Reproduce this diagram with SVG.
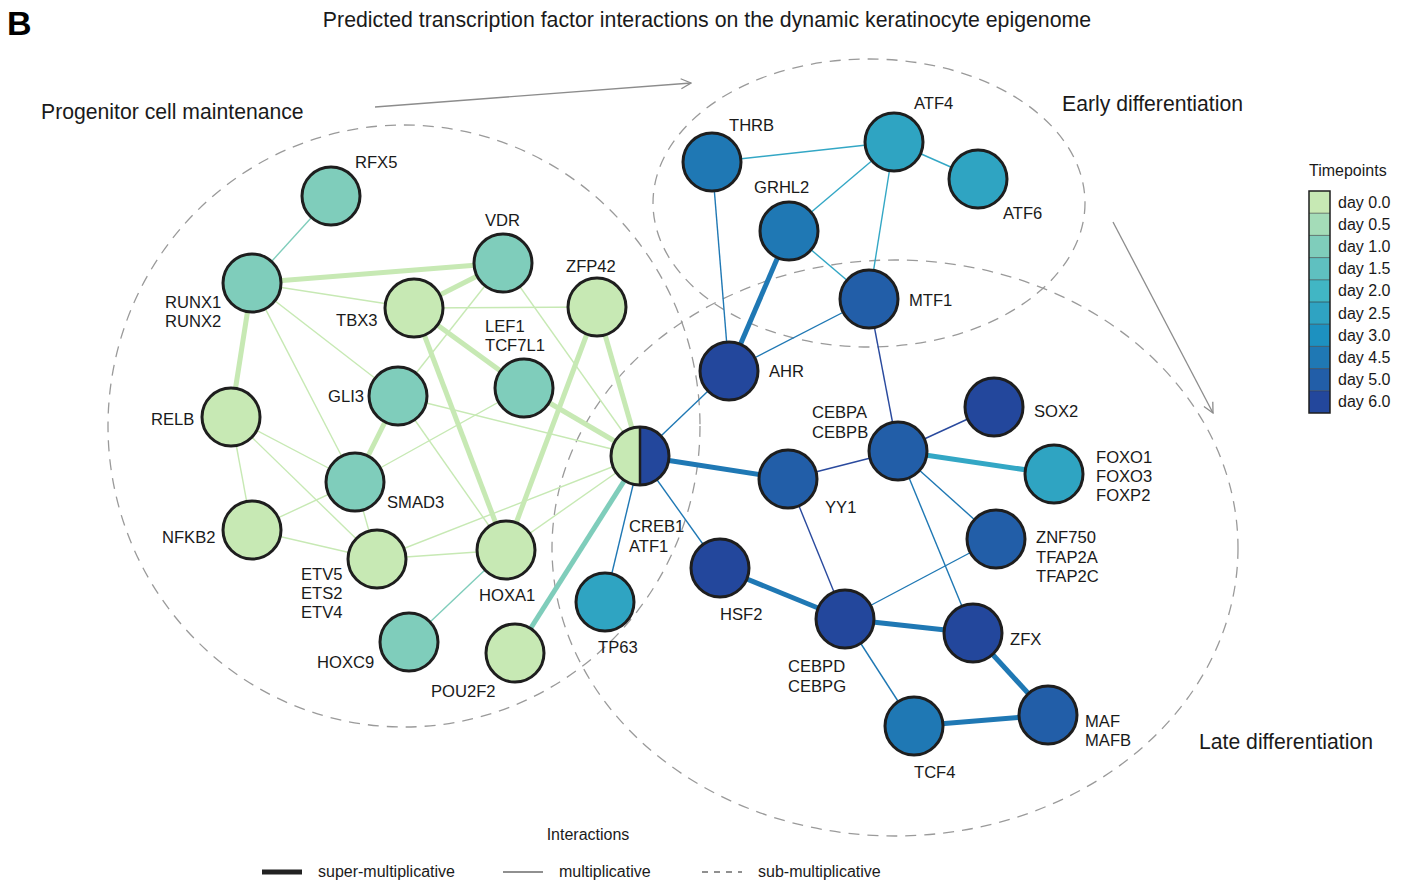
<svg xmlns="http://www.w3.org/2000/svg" width="1403" height="888" viewBox="0 0 1403 888">
<defs>
<marker id="arr" viewBox="0 0 12 12" refX="11" refY="6" markerWidth="12" markerHeight="12" markerUnits="userSpaceOnUse" orient="auto">
<path d="M1,1 L11,6 L1,11" fill="none" stroke="#8c8c8c" stroke-width="1.3"/>
</marker>
</defs>
<style>
text{font-family:"Liberation Sans",Arial,sans-serif;fill:#1a1a1a}
.lbl{font-size:16.6px}
.grp{font-size:21.2px}
.leg{font-size:16px}
.zone{fill:none;stroke:#9a9a9a;stroke-width:1.3;stroke-dasharray:11 8}
.node circle{stroke:#1e1e1e;stroke-width:3}
.gk{stroke:#c7e9b4;stroke-width:5;fill:none}
.gt{stroke:#c7e9b4;stroke-width:1.4;fill:none}
.tt{stroke:#7fcdbb;stroke-width:1.4;fill:none}
.tk{stroke:#7fcdbb;stroke-width:5;fill:none}
.lt{stroke:#33a7c5;stroke-width:1.4;fill:none}
.lk{stroke:#33a7c5;stroke-width:5;fill:none}
.bt{stroke:#1f78b4;stroke-width:1.4;fill:none}
.bk{stroke:#1f78b4;stroke-width:5;fill:none}
.dt{stroke:#2a4a9e;stroke-width:1.4;fill:none}
.c0{fill:#c7e9b4}.c1{fill:#7fcdbb}.c25{fill:#2fa4c2}.c3{fill:#1f78b4}.c5{fill:#225ea8}.c6{fill:#23479c}
</style>
<rect width="1403" height="888" fill="#ffffff"/>

<text x="7" y="35" style="font-size:34px;font-weight:bold;fill:#000">B</text>
<text x="707" y="27" text-anchor="middle" style="font-size:21.3px">Predicted transcription factor interactions on the dynamic keratinocyte epigenome</text>

<g id="zones">
<ellipse class="zone" cx="404" cy="426" rx="296" ry="301"/>
<ellipse class="zone" cx="869" cy="203" rx="216" ry="144"/>
<ellipse class="zone" cx="895" cy="548" rx="343" ry="288"/>
<text class="grp" x="41" y="119">Progenitor cell maintenance</text>
<text class="grp" x="1062" y="111">Early differentiation</text>
<text class="grp" x="1199" y="749">Late differentiation</text>
<line x1="375" y1="107" x2="691" y2="83" stroke="#8c8c8c" stroke-width="1.3" marker-end="url(#arr)"/>
<line x1="1113" y1="222" x2="1213" y2="413" stroke="#8c8c8c" stroke-width="1.3" marker-end="url(#arr)"/>
</g>

<g id="connectors">
<line class="gt" x1="252" y1="283" x2="414" y2="308"/>
<line class="gt" x1="252" y1="283" x2="398" y2="396"/>
<line class="gt" x1="252" y1="283" x2="355" y2="482"/>
<line class="gt" x1="414" y1="308" x2="597" y2="307"/>
<line class="gt" x1="503" y1="263" x2="398" y2="396"/>
<line class="gt" x1="503" y1="263" x2="640" y2="456"/>
<line class="gt" x1="524" y1="388" x2="355" y2="482"/>
<line class="gt" x1="398" y1="396" x2="640" y2="456"/>
<line class="gt" x1="398" y1="396" x2="506" y2="550"/>
<line class="gt" x1="231" y1="417" x2="252" y2="530"/>
<line class="gt" x1="231" y1="417" x2="355" y2="482"/>
<line class="gt" x1="231" y1="417" x2="377" y2="559"/>
<line class="gt" x1="252" y1="530" x2="355" y2="482"/>
<line class="gt" x1="252" y1="530" x2="377" y2="559"/>
<line class="gt" x1="355" y1="482" x2="377" y2="559"/>
<line class="gt" x1="377" y1="559" x2="506" y2="550"/>
<line class="gt" x1="377" y1="559" x2="640" y2="456"/>
<line class="gt" x1="506" y1="550" x2="640" y2="456"/>
<line class="gk" x1="252" y1="283" x2="503" y2="263"/>
<line class="gk" x1="252" y1="283" x2="231" y2="417"/>
<line class="gk" x1="414" y1="308" x2="503" y2="263"/>
<line class="gk" x1="414" y1="308" x2="524" y2="388"/>
<line class="gk" x1="414" y1="308" x2="506" y2="550"/>
<line class="gk" x1="597" y1="307" x2="640" y2="456"/>
<line class="gk" x1="597" y1="307" x2="506" y2="550"/>
<line class="gk" x1="524" y1="388" x2="640" y2="456"/>
<line class="gk" x1="398" y1="396" x2="355" y2="482"/>
<line class="tt" x1="331" y1="196" x2="252" y2="283"/>
<line class="tt" x1="409" y1="642" x2="506" y2="550"/>
<line class="tk" x1="640" y1="456" x2="515" y2="653"/>
<line class="lt" x1="712" y1="162" x2="894" y2="142"/>
<line class="lt" x1="894" y1="142" x2="978" y2="179"/>
<line class="lt" x1="894" y1="142" x2="789" y2="231"/>
<line class="lt" x1="894" y1="142" x2="869" y2="299"/>
<line class="lt" x1="789" y1="231" x2="869" y2="299"/>
<line class="lk" x1="898" y1="451" x2="1054" y2="474"/>
<line class="bt" x1="712" y1="162" x2="729" y2="371"/>
<line class="bt" x1="869" y1="299" x2="729" y2="371"/>
<line class="bt" x1="729" y1="371" x2="640" y2="456"/>
<line class="bt" x1="640" y1="456" x2="605" y2="602"/>
<line class="bt" x1="640" y1="456" x2="720" y2="568"/>
<line class="bt" x1="898" y1="451" x2="996" y2="539"/>
<line class="bt" x1="898" y1="451" x2="973" y2="633"/>
<line class="bt" x1="996" y1="539" x2="845" y2="619"/>
<line class="bt" x1="845" y1="619" x2="914" y2="726"/>
<line class="bk" x1="789" y1="231" x2="729" y2="371"/>
<line class="bk" x1="640" y1="456" x2="788" y2="479"/>
<line class="bk" x1="720" y1="568" x2="845" y2="619"/>
<line class="bk" x1="845" y1="619" x2="973" y2="633"/>
<line class="bk" x1="973" y1="633" x2="1048" y2="715"/>
<line class="bk" x1="914" y1="726" x2="1048" y2="715"/>
<line class="dt" x1="869" y1="299" x2="898" y2="451"/>
<line class="dt" x1="788" y1="479" x2="898" y2="451"/>
<line class="dt" x1="788" y1="479" x2="845" y2="619"/>
<line class="dt" x1="898" y1="451" x2="994" y2="407"/>
</g>

<g id="n-rfx5" class="node"><circle class="c1" cx="331" cy="196" r="29"/><text class="lbl" x="355" y="168">RFX5</text></g>
<g id="n-runx" class="node"><circle class="c1" cx="252" cy="283" r="29"/><text class="lbl" x="165" y="308">RUNX1</text><text class="lbl" x="165" y="327">RUNX2</text></g>
<g id="n-tbx3" class="node"><circle class="c0" cx="414" cy="308" r="29"/><text class="lbl" x="336" y="326">TBX3</text></g>
<g id="n-gli3" class="node"><circle class="c1" cx="398" cy="396" r="29"/><text class="lbl" x="328" y="402">GLI3</text></g>
<g id="n-relb" class="node"><circle class="c0" cx="231" cy="417" r="29"/><text class="lbl" x="151" y="425">RELB</text></g>
<g id="n-vdr" class="node"><circle class="c1" cx="503" cy="263" r="29"/><text class="lbl" x="485" y="226">VDR</text></g>
<g id="n-zfp42" class="node"><circle class="c0" cx="597" cy="307" r="29"/><text class="lbl" x="566" y="272">ZFP42</text></g>
<g id="n-lef1" class="node"><circle class="c1" cx="524" cy="388" r="29"/><text class="lbl" x="485" y="332">LEF1</text><text class="lbl" x="485" y="351">TCF7L1</text></g>
<g id="n-smad3" class="node"><circle class="c1" cx="355" cy="482" r="29"/><text class="lbl" x="387" y="508">SMAD3</text></g>
<g id="n-nfkb2" class="node"><circle class="c0" cx="252" cy="530" r="29"/><text class="lbl" x="162" y="543">NFKB2</text></g>
<g id="n-etv5" class="node"><circle class="c0" cx="377" cy="559" r="29"/><text class="lbl" x="301" y="580">ETV5</text><text class="lbl" x="301" y="599">ETS2</text><text class="lbl" x="301" y="618">ETV4</text></g>
<g id="n-hoxc9" class="node"><circle class="c1" cx="409" cy="642" r="29"/><text class="lbl" x="317" y="668">HOXC9</text></g>
<g id="n-hoxa1" class="node"><circle class="c0" cx="506" cy="550" r="29"/><text class="lbl" x="479" y="601">HOXA1</text></g>
<g id="n-pou2f2" class="node"><circle class="c0" cx="515" cy="653" r="29"/><text class="lbl" x="431" y="697">POU2F2</text></g>
<g id="n-tp63" class="node"><circle class="c25" cx="605" cy="602" r="29"/><text class="lbl" x="598" y="653">TP63</text></g>
<g id="n-creb1" class="node">
<path d="M640,427 A29,29 0 0 0 640,485 Z" fill="#c7e9b4"/>
<path d="M640,427 A29,29 0 0 1 640,485 Z" fill="#23479c"/>
<line x1="640" y1="427" x2="640" y2="485" stroke="#1e1e1e" stroke-width="2.5"/>
<circle cx="640" cy="456" r="29" fill="none"/>
<text class="lbl" x="629" y="532">CREB1</text><text class="lbl" x="629" y="552">ATF1</text></g>
<g id="n-thrb" class="node"><circle class="c3" cx="712" cy="162" r="29"/><text class="lbl" x="729" y="131">THRB</text></g>
<g id="n-atf4" class="node"><circle class="c25" cx="894" cy="142" r="29"/><text class="lbl" x="914" y="109">ATF4</text></g>
<g id="n-atf6" class="node"><circle class="c25" cx="978" cy="179" r="29"/><text class="lbl" x="1003" y="219">ATF6</text></g>
<g id="n-grhl2" class="node"><circle class="c3" cx="789" cy="231" r="29"/><text class="lbl" x="754" y="193">GRHL2</text></g>
<g id="n-mtf1" class="node"><circle class="c5" cx="869" cy="299" r="29"/><text class="lbl" x="909" y="306">MTF1</text></g>
<g id="n-ahr" class="node"><circle class="c6" cx="729" cy="371" r="29"/><text class="lbl" x="769" y="377">AHR</text></g>
<g id="n-cebpa" class="node"><circle class="c5" cx="898" cy="451" r="29"/><text class="lbl" x="812" y="418">CEBPA</text><text class="lbl" x="812" y="438">CEBPB</text></g>
<g id="n-sox2" class="node"><circle class="c6" cx="994" cy="407" r="29"/><text class="lbl" x="1034" y="417">SOX2</text></g>
<g id="n-foxo" class="node"><circle class="c25" cx="1054" cy="474" r="29"/><text class="lbl" x="1096" y="463">FOXO1</text><text class="lbl" x="1096" y="482">FOXO3</text><text class="lbl" x="1096" y="501">FOXP2</text></g>
<g id="n-yy1" class="node"><circle class="c5" cx="788" cy="479" r="29"/><text class="lbl" x="825" y="513">YY1</text></g>
<g id="n-znf750" class="node"><circle class="c5" cx="996" cy="539" r="29"/><text class="lbl" x="1036" y="543">ZNF750</text><text class="lbl" x="1036" y="563">TFAP2A</text><text class="lbl" x="1036" y="582">TFAP2C</text></g>
<g id="n-hsf2" class="node"><circle class="c6" cx="720" cy="568" r="29"/><text class="lbl" x="720" y="620">HSF2</text></g>
<g id="n-cebpd" class="node"><circle class="c6" cx="845" cy="619" r="29"/><text class="lbl" x="788" y="672">CEBPD</text><text class="lbl" x="788" y="692">CEBPG</text></g>
<g id="n-zfx" class="node"><circle class="c6" cx="973" cy="633" r="29"/><text class="lbl" x="1010" y="645">ZFX</text></g>
<g id="n-tcf4" class="node"><circle class="c3" cx="914" cy="726" r="29"/><text class="lbl" x="914" y="778">TCF4</text></g>
<g id="n-maf" class="node"><circle class="c5" cx="1048" cy="715" r="29"/><text class="lbl" x="1085" y="727">MAF</text><text class="lbl" x="1085" y="746">MAFB</text></g>

<g id="legend-time">
<text class="leg" x="1309" y="176">Timepoints</text>
<rect x="1309" y="191" width="21" height="22.2" fill="#c7e9b4"/>
<rect x="1309" y="213.2" width="21" height="22.2" fill="#a4dcb8"/>
<rect x="1309" y="235.4" width="21" height="22.2" fill="#7fcdbb"/>
<rect x="1309" y="257.6" width="21" height="22.2" fill="#5fc0c0"/>
<rect x="1309" y="279.8" width="21" height="22.2" fill="#41b6c4"/>
<rect x="1309" y="302" width="21" height="22.2" fill="#2fa3c2"/>
<rect x="1309" y="324.2" width="21" height="22.2" fill="#1d91c0"/>
<rect x="1309" y="346.4" width="21" height="22.2" fill="#1f78b4"/>
<rect x="1309" y="368.6" width="21" height="22.2" fill="#225ea8"/>
<rect x="1309" y="390.8" width="21" height="22.2" fill="#23479c"/>
<g stroke="#333" stroke-width="0.6">
<line x1="1309" y1="213.2" x2="1330" y2="213.2"/><line x1="1309" y1="235.4" x2="1330" y2="235.4"/><line x1="1309" y1="257.6" x2="1330" y2="257.6"/><line x1="1309" y1="279.8" x2="1330" y2="279.8"/><line x1="1309" y1="302" x2="1330" y2="302"/><line x1="1309" y1="324.2" x2="1330" y2="324.2"/><line x1="1309" y1="346.4" x2="1330" y2="346.4"/><line x1="1309" y1="368.6" x2="1330" y2="368.6"/><line x1="1309" y1="390.8" x2="1330" y2="390.8"/>
</g>
<rect x="1309" y="191" width="21" height="222" fill="none" stroke="#1e1e1e" stroke-width="1.5"/>
<text class="leg" x="1338" y="207.5">day 0.0</text>
<text class="leg" x="1338" y="229.7">day 0.5</text>
<text class="leg" x="1338" y="251.9">day 1.0</text>
<text class="leg" x="1338" y="274.1">day 1.5</text>
<text class="leg" x="1338" y="296.3">day 2.0</text>
<text class="leg" x="1338" y="318.5">day 2.5</text>
<text class="leg" x="1338" y="340.7">day 3.0</text>
<text class="leg" x="1338" y="362.9">day 4.5</text>
<text class="leg" x="1338" y="385.1">day 5.0</text>
<text class="leg" x="1338" y="407.3">day 6.0</text>
</g>

<g id="legend-int">
<text class="leg" x="588" y="840" text-anchor="middle">Interactions</text>
<line x1="262" y1="872" x2="302" y2="872" stroke="#222" stroke-width="5"/>
<text class="leg" x="318" y="877">super-multiplicative</text>
<line x1="503" y1="872" x2="543" y2="872" stroke="#222" stroke-width="1.2"/>
<text class="leg" x="559" y="877">multiplicative</text>
<line x1="702" y1="872" x2="742" y2="872" stroke="#222" stroke-width="1.2" stroke-dasharray="6 6"/>
<text class="leg" x="758" y="877">sub-multiplicative</text>
</g>
</svg>
